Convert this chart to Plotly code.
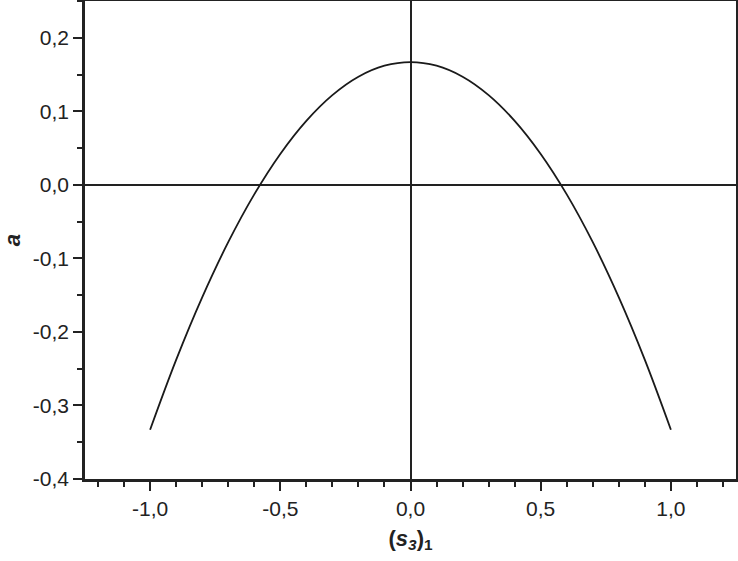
import plotly.graph_objects as go

# Values
s3 = [-1.0, -0.9, -0.8, -0.7, -0.6, -0.5, -0.4, -0.3, -0.2, -0.1, 0.0,
      0.1, 0.2, 0.3, 0.4, 0.5, 0.6, 0.7, 0.8, 0.9, 1.0]
a_vals = [-0.333, -0.238, -0.153, -0.078, -0.013, 0.042, 0.087, 0.122, 0.147, 0.162, 0.167,
          0.162, 0.147, 0.122, 0.087, 0.042, -0.013, -0.078, -0.153, -0.238, -0.333]

x_tickvals = [-1.0, -0.5, 0.0, 0.5, 1.0]
x_ticktext = ["-1,0", "-0,5", "0,0", "0,5", "1,0"]
y_tickvals = [-0.4, -0.3, -0.2, -0.1, 0.0, 0.1, 0.2]
y_ticktext = ["-0,4", "-0,3", "-0,2", "-0,1", "0,0", "0,1", "0,2"]

fig = go.Figure()
fig.add_trace(go.Scatter(
    x=s3, y=a_vals, mode="lines",
    line=dict(color="#1a1a1a", width=1.8, shape="spline", smoothing=1.0),
    showlegend=False,
))

FAM = "Liberation Sans, Arial, sans-serif"
font_tick = dict(family=FAM, size=21, color="#222")

fig.update_layout(
    width=738, height=561,
    margin=dict(l=85, r=2, t=1, b=82),
    paper_bgcolor="white", plot_bgcolor="white",
    font=font_tick,
    xaxis=dict(
        range=[-1.25, 1.25], automargin=False,
        tickmode="array", tickvals=x_tickvals, ticktext=x_ticktext,
        ticks="outside", ticklen=9, tickwidth=2, tickcolor="#222",
        minor=dict(dtick=0.1, tick0=0, ticks="outside", ticklen=5, tickwidth=2, tickcolor="#222"),
        showline=True, linecolor="#222", linewidth=2.5, mirror=True,
        showgrid=False,
        zeroline=True, zerolinecolor="#222", zerolinewidth=1.5,
        title=dict(text="<b>(<i>s</i><sub><i>3</i></sub>)<sub>1</sub></b>",
                   font=dict(family=FAM, size=22, color="#222"),
                   standoff=12),
        tickfont=font_tick,
    ),
    yaxis=dict(
        range=[-0.4, 0.25], automargin=False,
        tickmode="array", tickvals=y_tickvals, ticktext=y_ticktext,
        ticks="outside", ticklen=9, tickwidth=2, tickcolor="#222",
        minor=dict(dtick=0.05, tick0=0, ticks="outside", ticklen=5, tickwidth=2, tickcolor="#222"),
        showline=True, linecolor="#222", linewidth=2.5, mirror=True,
        showgrid=False,
        zeroline=True, zerolinecolor="#222", zerolinewidth=1.5,
        title=dict(text="<i><b>a</b></i>",
                   font=dict(family=FAM, size=22, color="#222"),
                   standoff=14),
        tickfont=font_tick,
    ),
)

fig.write_html("out.html",
               config={"displayModeBar": False},
               post_script="document.body.style.margin='0';document.body.style.overflow='hidden';")
